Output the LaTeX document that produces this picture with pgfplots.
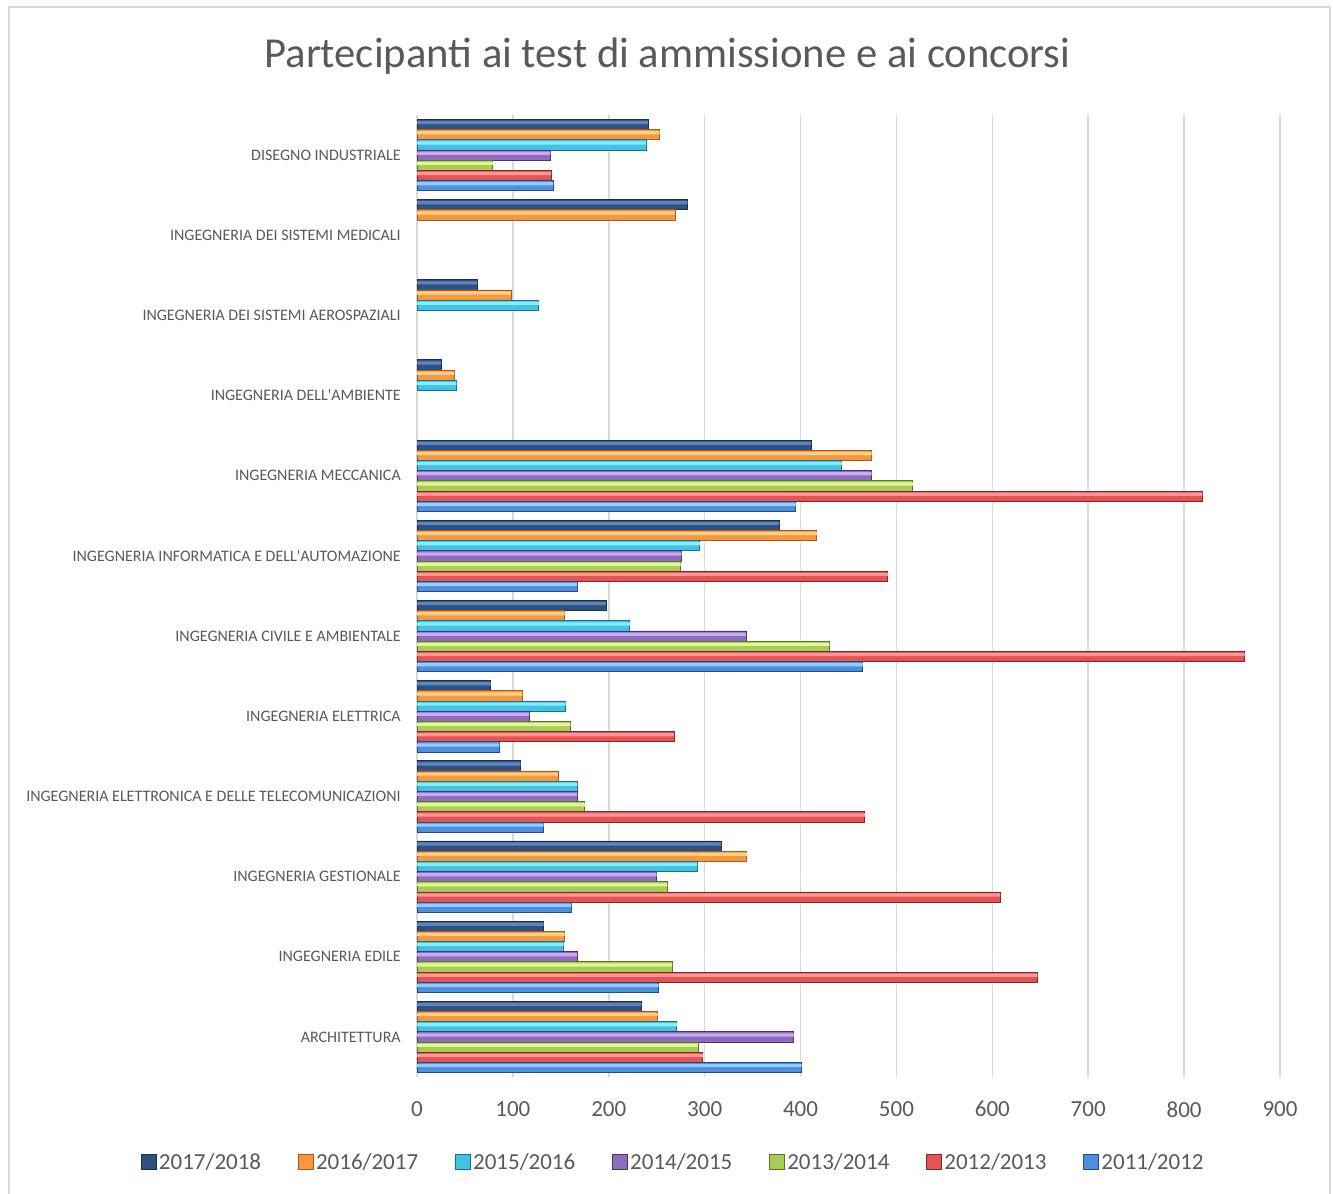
\documentclass[border=0pt]{standalone}
\usepackage{pgfplots}
\usepackage{pgfplotstable}
\pgfplotsset{compat=1.18}
\usepackage{fontspec}
\setmainfont{Carlito}[Ligatures=TeXOff]
\definecolor{txt}{HTML}{595959}
\definecolor{gridc}{HTML}{D9D9D9}
% series colours: light / base / dark
\definecolor{sAl}{HTML}{5F86BC}\definecolor{sAm}{HTML}{2F5080}\definecolor{sAd}{HTML}{1A3050}
\definecolor{sBl}{HTML}{FFD08A}\definecolor{sBm}{HTML}{F7983E}\definecolor{sBd}{HTML}{A85A1C}
\definecolor{sCl}{HTML}{8AEBFF}\definecolor{sCm}{HTML}{3FC4E4}\definecolor{sCd}{HTML}{1E7088}
\definecolor{sDl}{HTML}{C8A8F2}\definecolor{sDm}{HTML}{8E6CBE}\definecolor{sDd}{HTML}{4A346A}
\definecolor{sEl}{HTML}{E0F79A}\definecolor{sEm}{HTML}{A8CC58}\definecolor{sEd}{HTML}{5A7626}
\definecolor{sFl}{HTML}{FF9896}\definecolor{sFm}{HTML}{E45452}\definecolor{sFd}{HTML}{842826}
\definecolor{sGl}{HTML}{96CBFF}\definecolor{sGm}{HTML}{4F8ED8}\definecolor{sGd}{HTML}{224C84}
% y: 0 = ARCHITETTURA (bottom) ... 11 = DISEGNO INDUSTRIALE (top)
\pgfplotstableread{
y  a    b    c    d    e    f    g
0  234  251  271  393  293  298  401
1  132  154  153  167  266  647  252
2  317  344  292  250  261  608  161
3  108  147  167  167  175  467  132
4  77   110  155  117  160  268  86
5  197  154  222  343  430  863  465
6  378  417  295  276  275  491  167
7  411  474  443  474  517  819  395
8  25   39   41   nan  nan  nan  nan
9  63   98   127  nan  nan  nan  nan
10 282  269  nan  nan  nan  nan  nan
11 241  253  239  139  79   140  142
}\datatable
\begin{document}
\begin{tikzpicture}
\useasboundingbox (0,0) rectangle (999.75pt,-894.75pt);
\draw[gridc, line width=1.2pt] (6.75pt,-5.25pt) rectangle (997.5pt,-910pt);
\node[text=txt, font=\fontsize{32pt}{36pt}\selectfont] at (500.6pt,-42pt) {Partecipanti ai test di ammissione e ai concorsi};
\begin{axis}[
  at={(312.75pt,-807.75pt)}, anchor=south west,
  width=647.25pt, height=721.5pt, scale only axis,
  xmin=0, xmax=900, ymin=-0.5, ymax=11.5,
  xtick={0,100,...,900},
  ytick={0,...,11},
  yticklabels={ARCHITETTURA, INGEGNERIA EDILE, INGEGNERIA GESTIONALE, INGEGNERIA ELETTRONICA E DELLE TELECOMUNICAZIONI, INGEGNERIA ELETTRICA, INGEGNERIA CIVILE E AMBIENTALE, INGEGNERIA INFORMATICA E DELL'AUTOMAZIONE, INGEGNERIA MECCANICA, INGEGNERIA DELL'AMBIENTE, INGEGNERIA DEI SISTEMI AEROSPAZIALI, INGEGNERIA DEI SISTEMI MEDICALI, DISEGNO INDUSTRIALE},
  /pgf/number format/assume math mode=true,
  axis line style={draw=none},
  major tick length=0pt,
  xmajorgrids, grid style={gridc, line width=1.2pt},
  xticklabel style={font=\fontsize{17.25pt}{20pt}\selectfont, text=txt, anchor=north, inner sep=0pt, yshift=-18pt},
  yticklabel style={font=\fontsize{12pt}{14pt}\selectfont, text=txt, anchor=east, inner sep=0pt, xshift=-12pt},
  bar width=7.65pt,
  legend columns=7,
  legend style={at={(0.2972,-0.0884)}, anchor=center, draw=none, fill=none,
    font=\fontsize{17.25pt}{20pt}\selectfont, text=txt,
    /tikz/every even column/.append style={column sep=25.5pt}},
  legend image code/.code={\draw[#1, line width=0.5pt] (0pt,-5.6pt) rectangle (11.2pt,5.6pt);},
  hl/.style={xbar, bar width=2.4pt, draw=none, forget plot},
]
\addplot[xbar, bar shift=22.95pt, fill=sAm, draw=sAd, line width=0.6pt] table[x=a, y=y] {\datatable};
\addplot[xbar, bar shift=15.3pt,  fill=sBm, draw=sBd, line width=0.6pt] table[x=b, y=y] {\datatable};
\addplot[xbar, bar shift=7.65pt,  fill=sCm, draw=sCd, line width=0.6pt] table[x=c, y=y] {\datatable};
\addplot[xbar, bar shift=0pt,     fill=sDm, draw=sDd, line width=0.6pt] table[x=d, y=y] {\datatable};
\addplot[xbar, bar shift=-7.65pt, fill=sEm, draw=sEd, line width=0.6pt] table[x=e, y=y] {\datatable};
\addplot[xbar, bar shift=-15.3pt, fill=sFm, draw=sFd, line width=0.6pt] table[x=f, y=y] {\datatable};
\addplot[xbar, bar shift=-22.95pt,fill=sGm, draw=sGd, line width=0.6pt] table[x=g, y=y] {\datatable};
\legend{2017/2018, 2016/2017, 2015/2016, 2014/2015, 2013/2014, 2012/2013, 2011/2012}
% highlight strips on the upper part of each bar (same data)
\addplot[hl, bar shift=24.4pt,  fill=sAl] table[x=a, y=y] {\datatable};
\addplot[hl, bar shift=16.75pt, fill=sBl] table[x=b, y=y] {\datatable};
\addplot[hl, bar shift=9.1pt,   fill=sCl] table[x=c, y=y] {\datatable};
\addplot[hl, bar shift=1.45pt,  fill=sDl] table[x=d, y=y] {\datatable};
\addplot[hl, bar shift=-6.2pt,  fill=sEl] table[x=e, y=y] {\datatable};
\addplot[hl, bar shift=-13.85pt,fill=sFl] table[x=f, y=y] {\datatable};
\addplot[hl, bar shift=-21.5pt, fill=sGl] table[x=g, y=y] {\datatable};
\end{axis}
\end{tikzpicture}
\end{document}
